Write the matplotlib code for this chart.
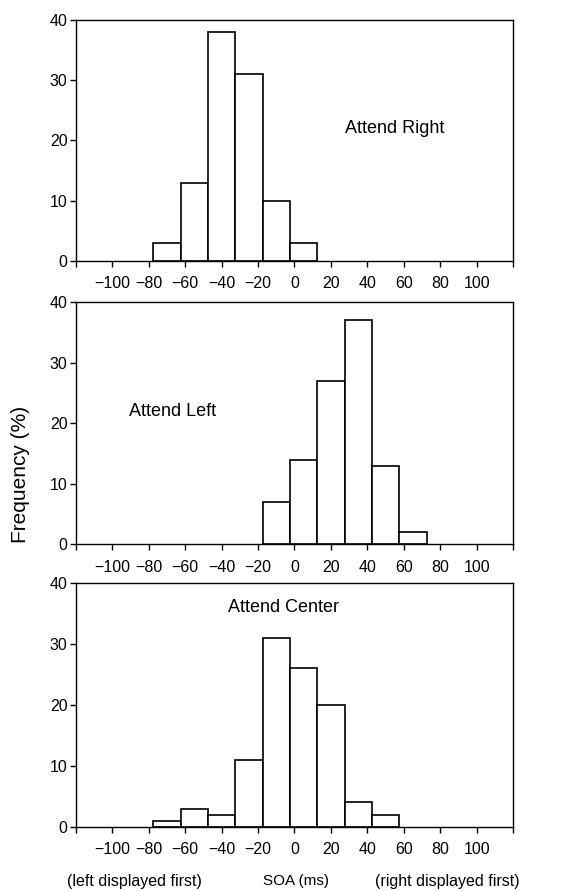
import matplotlib
matplotlib.use("Agg")
import matplotlib.pyplot as plt
import numpy as np

# bin centers (ms) and frequencies (%) for each condition, 15 ms bins
right_centers = [-70, -55, -40, -25, -10, 5]
right_freq = [3, 13, 38, 31, 10, 3]

left_centers = [-10, 5, 20, 35, 50, 65]
left_freq = [7, 14, 27, 37, 13, 2]

center_centers = [-70, -55, -40, -25, -10, 5, 20, 35, 50]
center_freq = [1, 3, 2, 11, 31, 26, 20, 4, 2]

bin_width = 15
xticks = list(range(-120, 121, 20))
xticklabels = ["" if abs(t) == 120 else str(t).replace("-", "\u2212") for t in xticks]
yticks = [0, 10, 20, 30, 40]

plt.rcParams['font.family'] = ['Liberation Sans', 'DejaVu Sans']

fig = plt.figure(figsize=(5.83, 8.91), dpi=100)
rects = [[0.130, 0.707, 0.750, 0.271],
         [0.130, 0.389, 0.750, 0.272],
         [0.130, 0.072, 0.750, 0.274]]

panels = [(right_centers, right_freq, "Attend Right", 55, 22),
          (left_centers, left_freq, "Attend Left", -67, 22),
          (center_centers, center_freq, "Attend Center", -6, 36)]

for rect, (cents, freq, label, tx, ty) in zip(rects, panels):
    ax = fig.add_axes(rect)
    ax.bar(cents, freq, width=bin_width, color="white", edgecolor="black", linewidth=1.2)
    ax.set_xlim(-120, 120)
    ax.set_ylim(0, 40)
    ax.set_xticks(xticks)
    ax.set_xticklabels(xticklabels, fontsize=11.5)
    ax.set_yticks(yticks)
    ax.set_yticklabels([str(y) for y in yticks], fontsize=11.5)
    ax.tick_params(direction="out", length=4, width=1, pad=7)
    ax.tick_params(axis="y", pad=2)
    for s in ax.spines.values():
        s.set_linewidth(1)
    ax.text(tx, ty, label, ha="center", va="center", fontsize=13)

fig.text(0.036, 0.468, "Frequency (%)", rotation=90, ha="center", va="center", fontsize=15)
fig.text(0.230, 0.011, "(left displayed first)", ha="center", va="center", fontsize=11.5)
fig.text(0.508, 0.011, "SOA (ms)", ha="center", va="center", fontsize=11)
fig.text(0.767, 0.011, "(right displayed first)", ha="center", va="center", fontsize=11.5)

fig.savefig("out.png", dpi=100)
